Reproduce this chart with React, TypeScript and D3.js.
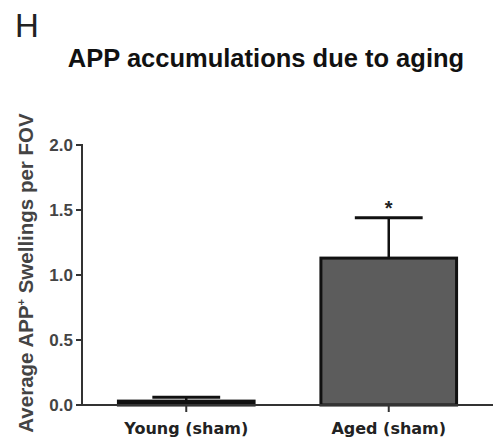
import React from "react";
import * as d3 from "d3";

const categories = ["Young (sham)", "Aged (sham)"];
const means = [0.03, 1.13];
const errors = [0.03, 0.31];
const yTicks = [0, 0.5, 1.0, 1.5, 2.0];
const significance = ["", "*"];

export default function App() {
  const W = 494, H = 442;
  const x0 = 82, x1 = 493, yTop = 145, yBot = 405;
  const y = d3.scaleLinear().domain([0, 2]).range([yBot, yTop]);
  const x = d3.scaleBand().domain(categories).range([x0 + 2, x1 - 2]).paddingInner(0.33).paddingOuter(0.17);
  const bw = x.bandwidth();
  const fills = ["#111", "#5c5c5c"];
  const font = "Arial, 'Liberation Sans', sans-serif";
  const font2 = "'DejaVu Sans', Verdana, sans-serif";
  return (
    <svg width={W} height={H} style={{ position: "absolute", left: 0, top: 0, background: "#fff" }}>
      <text x={15} y={37} fontFamily={font} fontSize={33} fill="#222">H</text>
      <text x={266} y={67} textAnchor="middle" fontFamily={font} fontSize={25.5} fontWeight="bold" fill="#111">APP accumulations due to aging</text>
      <text transform={`translate(33,${273}) rotate(-90)`} textAnchor="middle" fontFamily={font} fontSize={20.5} fontWeight="bold" fill="#444">
        Average APP<tspan dy={-8} fontSize={11}>+</tspan><tspan dy={8}> Swellings per FOV</tspan>
      </text>
      {/* bars */}
      {categories.map((c, i) => {
        const cx = (x(c) as number) + bw / 2;
        const top = y(means[i]);
        const et = y(means[i] + errors[i]);
        return (
          <g key={c}>
            <line x1={cx} x2={cx} y1={top} y2={et} stroke="#111" strokeWidth={2.5} />
            <line x1={cx - bw / 4} x2={cx + bw / 4} y1={et} y2={et} stroke="#111" strokeWidth={3} />
            <rect x={x(c)} y={top} width={bw} height={yBot - top} fill={fills[i]} stroke="#111" strokeWidth={3} />
            {significance[i] && (
              <text x={cx} y={et - 3} textAnchor="middle" fontFamily={font} fontSize={20} fontWeight="bold" fill="#222">{significance[i]}</text>
            )}
            <line x1={cx} x2={cx} y1={yBot} y2={yBot + 7} stroke="#333" strokeWidth={2} />
            <text x={cx} y={434} textAnchor="middle" fontFamily={font2} fontSize={16} fontWeight="bold" fill="#222">{c}</text>
          </g>
        );
      })}
      {/* axes */}
      <line x1={x0} x2={x0} y1={yTop - 1} y2={yBot + 1} stroke="#333" strokeWidth={2} />
      <line x1={x0 - 1} x2={x1} y1={yBot} y2={yBot} stroke="#333" strokeWidth={2} />
      {yTicks.map((t) => (
        <g key={t}>
          <line x1={x0 - 6} x2={x0} y1={y(t)} y2={y(t)} stroke="#333" strokeWidth={2} />
          <text x={x0 - 9} y={y(t) + 6} textAnchor="end" fontFamily={font} fontSize={17} fontWeight="bold" fill="#444">{t.toFixed(1)}</text>
        </g>
      ))}
    </svg>
  );
}
